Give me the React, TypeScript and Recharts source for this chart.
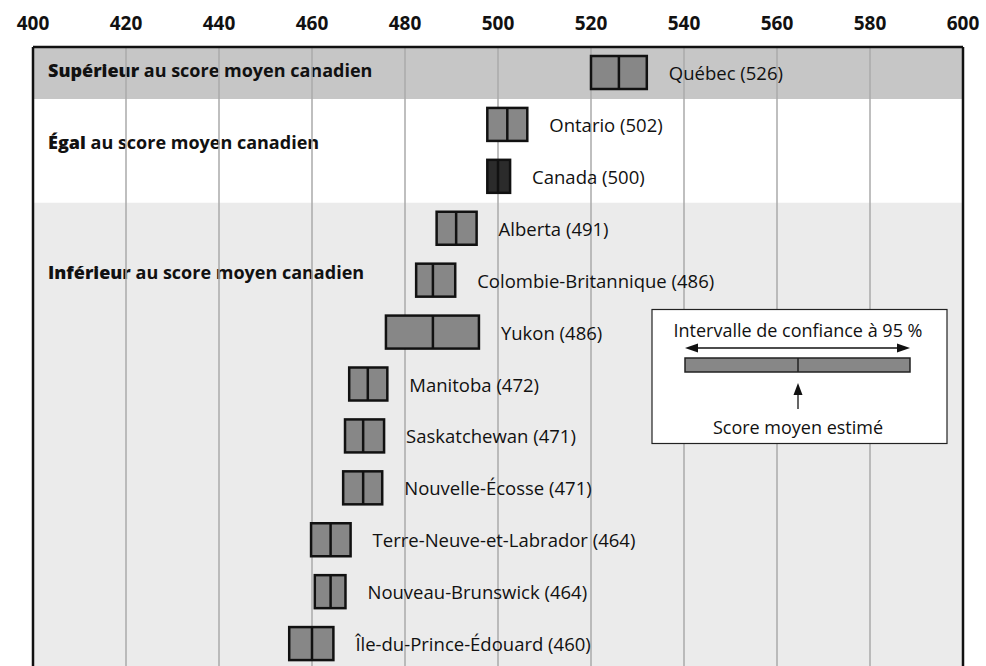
import React from 'react';
import { ComposedChart, Bar, XAxis, YAxis, ReferenceArea, ReferenceLine, CartesianGrid } from 'recharts';

const provinces = [
  'Québec',
  'Ontario',
  'Canada',
  'Alberta',
  'Colombie-Britannique',
  'Yukon',
  'Manitoba',
  'Saskatchewan',
  'Nouvelle-Écosse',
  'Terre-Neuve-et-Labrador',
  'Nouveau-Brunswick',
  'Île-du-Prince-Édouard',
];
const scores = [526, 502, 500, 491, 486, 486, 472, 471, 471, 464, 464, 460];
const ciLow = [520, 497.7, 497.7, 486.8, 482.4, 475.9, 468.0, 467.1, 466.7, 459.8, 460.6, 455.1];
const ciHigh = [532, 506.3, 502.6, 495.4, 490.8, 495.9, 476.2, 475.5, 475.1, 468.3, 467.2, 464.6];
const xTicks = [400, 420, 440, 460, 480, 500, 520, 540, 560, 580, 600];

const data = provinces.map((name, i) => ({
  name,
  score: scores[i],
  range: [ciLow[i], ciHigh[i]],
  label: `${name} (${scores[i]})`,
}));

const FONT = '"Open Sans", "Noto Sans", sans-serif';

const BoxShape = (props: any) => {
  const { x, y, width, height } = props;
  const p = props.payload ?? props;
  const [lo, hi] = p.range;
  const mx = x + ((p.score - lo) / (hi - lo)) * width;
  const fill = p.name === 'Canada' ? '#2b2b2b' : '#878787';
  return (
    <g>
      <rect x={x} y={y} width={width} height={height} fill={fill} stroke="#111" strokeWidth={2.5} />
      <line x1={mx} x2={mx} y1={y} y2={y + height} stroke="#111" strokeWidth={2.5} />
      <text
        x={x + width + 22}
        y={y + height / 2}
        dominantBaseline="central"
        fontSize={18.5}
        fill="#111"
        fontFamily={FONT}
      >
        {p.label}
      </text>
    </g>
  );
};

const sectionLabel = (strong: string, dy: number) => (props: any) => {
  const vb = props.viewBox || {};
  return (
    <text
      x={vb.x + 15}
      y={vb.y + vb.height / 2 + dy}
      dominantBaseline="central"
      fontSize={18}
      fontWeight={700}
      fill="#111"
      fontFamily={FONT}
    >
      <tspan fontWeight={800}>{strong}</tspan> au score moyen canadien
    </text>
  );
};

const LegendBox = () => (
  <svg
    width={986}
    height={666}
    style={{ position: 'absolute', left: 0, top: 0, pointerEvents: 'none' }}
    fontFamily={FONT}
  >
    <rect x={652} y={309.5} width={295} height={134} fill="#fff" stroke="#222" strokeWidth={1.2} />
    <text x={798} y={330} textAnchor="middle" dominantBaseline="central" fontSize={18} fill="#111">
      Intervalle de confiance à 95 %
    </text>
    <line x1={692} x2={903} y1={348} y2={348} stroke="#111" strokeWidth={1.5} />
    <polygon points="685,348 698,343.5 698,352.5" fill="#111" />
    <polygon points="910,348 897,343.5 897,352.5" fill="#111" />
    <rect x={685} y={358} width={225} height={14} fill="#878787" stroke="#222" strokeWidth={1.5} />
    <line x1={798} x2={798} y1={358} y2={372} stroke="#222" strokeWidth={1.5} />
    <line x1={798} x2={798} y1={392} y2={409} stroke="#333" strokeWidth={1.5} />
    <polygon points="798,383 793.5,395 802.5,395" fill="#111" />
    <text x={798} y={427} textAnchor="middle" dominantBaseline="central" fontSize={18} fill="#111">
      Score moyen estimé
    </text>
  </svg>
);

export default function App() {
  return (
    <div
      style={{
        position: 'absolute',
        left: 0,
        top: 0,
        width: 986,
        height: 666,
        overflow: 'hidden',
        background: '#fff',
        fontFamily: FONT,
      }}
    >
      <ComposedChart
        width={986}
        height={672}
        data={data}
        layout="vertical"
        margin={{ top: 17, right: 23, bottom: 2, left: 33 }}
      >
        <ReferenceArea
          y1="Québec"
          y2="Québec"
          fill="#c6c6c6"
          fillOpacity={1}
          stroke="none"
          zIndex={-200}
          label={sectionLabel('Supérieur', -3)}
        />
        <ReferenceArea
          y1="Ontario"
          y2="Canada"
          fill="#ffffff"
          fillOpacity={1}
          stroke="none"
          zIndex={-200}
          label={sectionLabel('Égal', -9)}
        />
        <ReferenceArea
          y1="Alberta"
          y2="Île-du-Prince-Édouard"
          fill="#ebebeb"
          fillOpacity={1}
          stroke="none"
          zIndex={-200}
        />
        <ReferenceArea
          y1="Colombie-Britannique"
          y2="Colombie-Britannique"
          fill="none"
          fillOpacity={0}
          stroke="none"
          zIndex={-200}
          label={sectionLabel('Inférieur', -9)}
        />
        <CartesianGrid horizontal={false} stroke="#aaaaaa" strokeWidth={1.5} />
        <XAxis
          type="number"
          domain={[400, 600]}
          ticks={xTicks}
          orientation="top"
          height={30}
          allowDataOverflow
          axisLine={{ stroke: '#111', strokeWidth: 2.5 }}
          tickLine={false}
          tickSize={6}
          tickMargin={11}
          tick={{ fontSize: 19, fontWeight: 700, fill: '#111', fontFamily: FONT }}
          interval={0}
        />
        <YAxis type="category" dataKey="name" hide />
        <ReferenceLine x={400} stroke="#111" strokeWidth={2.5} />
        <ReferenceLine x={600} stroke="#111" strokeWidth={2.5} />
        <Bar dataKey="range" barSize={33} shape={BoxShape} isAnimationActive={false} />
      </ComposedChart>
      <LegendBox />
    </div>
  );
}
